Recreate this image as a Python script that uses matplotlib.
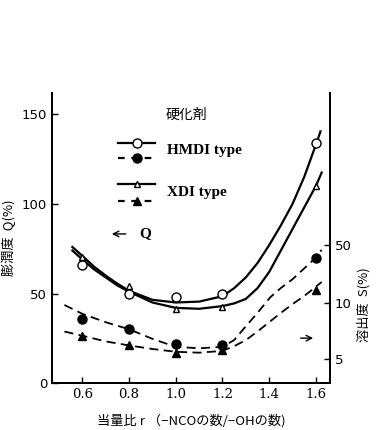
import numpy as np
import matplotlib.pyplot as plt
from matplotlib.lines import Line2D

plt.rcParams['font.family'] = ['Noto Sans CJK JP', 'DejaVu Sans']

# measured points (swelling Q, left axis)
r_pts = [0.6, 0.8, 1.0, 1.2, 1.6]
q_hmdi = [66, 50, 48, 50, 134]
q_xdi = [70.5, 54, 41.5, 42.5, 110]

# measured points (elution S, right axis)
s_hmdi = [8.2, 7.2, 6.0, 5.9, 35]
s_xdi = [6.6, 5.9, 5.4, 5.6, 14.2]

# drawn curves
r_curve_q = [0.557, 0.6, 0.65, 0.7, 0.75, 0.8, 0.9, 1.0, 1.1, 1.2, 1.25, 1.3, 1.35, 1.4, 1.45, 1.5, 1.55, 1.6, 1.62]
qc_hmdi = [76, 71, 65, 60, 55.5, 51.5, 46.5, 45, 45.5, 48.5, 53, 59, 67, 77, 88, 100, 115, 133, 140.5]
r_curve_qx = [0.557, 0.6, 0.65, 0.7, 0.75, 0.8, 0.9, 1.0, 1.1, 1.2, 1.25, 1.3, 1.35, 1.4, 1.45, 1.5, 1.55, 1.6, 1.625]
qc_xdi = [74, 69, 63.5, 59, 54.5, 51, 45, 42, 41.5, 43, 44.5, 47, 53, 62, 74, 86, 98, 110, 117.5]

r_curve_s = [0.523, 0.6, 0.7, 0.8, 0.9, 1.0, 1.1, 1.2, 1.25, 1.285, 1.35, 1.405, 1.45, 1.5, 1.55, 1.583, 1.625]
sc_hmdi = [9.7, 8.7, 7.85, 7.2, 6.4, 5.8, 5.7, 5.8, 6.3, 7.1, 8.8, 11.6, 15, 19.2, 26, 31.8, 43.8]
r_curve_sx = [0.523, 0.6, 0.7, 0.8, 0.9, 1.0, 1.1, 1.2, 1.25, 1.3, 1.35, 1.4, 1.45, 1.5, 1.55, 1.583, 1.625]
sc_xdi = [7.0, 6.65, 6.2, 5.9, 5.65, 5.46, 5.4, 5.52, 5.85, 6.3, 7.0, 7.85, 8.8, 9.8, 12, 14.2, 17.8]

x_ticks = [0.6, 0.8, 1.0, 1.2, 1.4, 1.6]
q_ticks = [0, 50, 100, 150]
s_ticks = [5, 10, 50]


# right axis is an odd log-like scale: 5, 10 and 50 are evenly spaced
def s_fwd(s):
    ls = np.log10(np.clip(np.asarray(s, dtype=float), 1e-9, None))
    return np.where(ls < 1, 13.5 + (ls - np.log10(5)) / np.log10(2) * 31.5,
                    45 + (ls - 1) / np.log10(5) * 32)


def s_inv(q):
    q = np.asarray(q, dtype=float)
    ls = np.where(q < 45, np.log10(5) + (q - 13.5) / 31.5 * np.log10(2),
                  1 + (q - 45) / 32 * np.log10(5))
    return 10 ** ls


fig = plt.figure(figsize=(3.8, 4.3), dpi=100)
ax = fig.add_axes([0.137, 0.109, 0.731, 0.675])
ax2 = ax.twinx()

q_top = 162
ax.set_xlim(0.47, 1.66)
ax.set_ylim(0, q_top)
ax2.set_yscale('function', functions=(s_fwd, s_inv))
ax2.set_ylim(float(s_inv(0)), float(s_inv(q_top)))

lw = 1.6
ax.plot(r_curve_q, qc_hmdi, color='black', lw=lw)
ax.plot(r_curve_qx, qc_xdi, color='black', lw=lw)
ax.plot(r_pts, q_hmdi, 'o', ms=6.5, mfc='white', mec='black', mew=1)
ax.plot(r_pts, q_xdi, '^', ms=5, mfc='white', mec='black', mew=1)

ax2.plot(r_curve_s, sc_hmdi, color='black', lw=1.3, dashes=(5, 3))
ax2.plot(r_curve_sx, sc_xdi, color='black', lw=1.3, dashes=(5, 3))
ax2.plot(r_pts, s_hmdi, 'o', ms=6.5, color='black')
ax2.plot(r_pts, s_xdi, '^', ms=5.5, color='black')

for a in (ax, ax2):
    a.spines['top'].set_visible(False)
    a.spines['left'].set_linewidth(1.3)
    a.spines['right'].set_linewidth(1.3)
    a.spines['bottom'].set_linewidth(1.3)

ax.set_xticks(x_ticks)
ax.set_xticklabels([f'{v:.1f}' for v in x_ticks], family='DejaVu Serif', fontsize=9.5)
ax.set_yticks(q_ticks)
ax.set_yticklabels([str(v) for v in q_ticks], family='DejaVu Sans', fontsize=9.5)
ax.tick_params(direction='in', length=4, width=1)
ax2.set_yticks(s_ticks)
ax2.set_yticklabels([str(v) for v in s_ticks], family='DejaVu Sans', fontsize=9.5)
ax2.yaxis.set_minor_locator(plt.NullLocator())
ax2.tick_params(direction='in', length=4, width=1)

ax.set_xlabel('当量比 r （−NCOの数/−OHの数)', fontsize=9.5, labelpad=9)
ax.set_ylabel('膨潤度  Q(%)', fontsize=9.5, labelpad=4)
ax2.set_ylabel('溶出度  S(%)', fontsize=9.5, labelpad=4, y=0.27)

# hand-drawn legend
tr = ax.transAxes
ax.text(0.482, 0.924, '硬化剤', transform=tr, ha='center', va='center', fontsize=10)
for y, ls, mk, ms, mfc in [(0.828, '-', 'o', 6.5, 'white'), (0.776, '--', 'o', 6.5, 'black'),
                           (0.686, '-', '^', 5, 'white'), (0.628, '--', '^', 5.5, 'black')]:
    ax.add_line(Line2D([0.237, 0.370], [y, y], transform=tr, color='black', lw=lw,
                       ls=ls, dashes=(3, 3) if ls == '--' else (None, None)))
    ax.add_line(Line2D([0.306], [y], transform=tr, marker=mk, ms=ms, mfc=mfc, mec='black', mew=1,
                       ls='none'))
ax.text(0.414, 0.802, 'HMDI type', transform=tr, va='center', fontsize=11,
        family='Liberation Serif', weight='bold')
ax.text(0.414, 0.657, 'XDI type', transform=tr, va='center', fontsize=11,
        family='Liberation Serif', weight='bold')
ax.annotate('', xy=(0.205, 0.514), xytext=(0.275, 0.514), xycoords=tr,
            arrowprops=dict(arrowstyle='->', color='black', lw=1))
ax.text(0.335, 0.514, 'Q', transform=tr, va='center', ha='center', fontsize=11,
        family='Liberation Serif', weight='bold')
ax.annotate('', xy=(0.95, 0.155), xytext=(0.885, 0.155), xycoords=tr,
            arrowprops=dict(arrowstyle='->', color='black', lw=1))

fig.savefig('out.png', dpi=100)
